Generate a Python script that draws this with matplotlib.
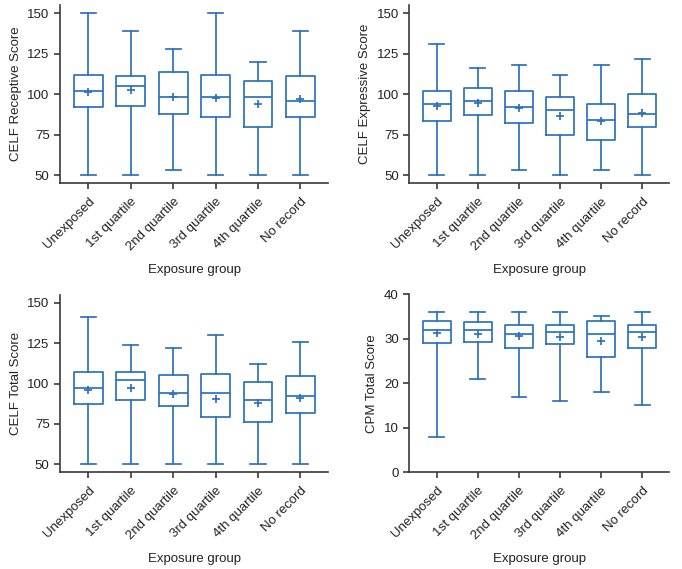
import matplotlib
matplotlib.use("Agg")
import matplotlib.pyplot as plt

plt.rcParams['font.family'] = ['Liberation Sans', 'DejaVu Sans']

groups = ["Unexposed", "1st quartile", "2nd quartile", "3rd quartile", "4th quartile", "No record"]

# CELF Receptive
rec_whislo = [50, 50, 53, 50, 50, 50]
rec_q1 = [92, 93, 88, 86, 80, 86]
rec_med = [102, 105, 98, 98, 98, 96]
rec_q3 = [112, 111, 114, 112, 108, 111]
rec_whishi = [150, 139, 128, 150, 120, 139]
rec_mean = [101.5, 102.5, 98.4, 97.7, 94.2, 97.3]

# CELF Expressive
exp_whislo = [50, 50, 53, 50, 53, 50]
exp_q1 = [83.5, 87, 82, 75, 72, 80]
exp_med = [94, 96, 92, 90, 84, 88]
exp_q3 = [102, 104, 102, 98.5, 94, 100]
exp_whishi = [131, 116, 118, 112, 118, 122]
exp_mean = [93, 94.6, 91.4, 86.8, 83.5, 88.1]

# CELF Total
tot_whislo = [50, 50, 50, 50, 50, 50]
tot_q1 = [87, 89.6, 86, 79.4, 76, 82]
tot_med = [97, 102.4, 94, 94.1, 90, 92]
tot_q3 = [107, 107, 105, 106, 101, 104.5]
tot_whishi = [141, 124, 122, 130, 112, 126]
tot_mean = [96.2, 97.4, 93.5, 90.7, 87.8, 91.3]

# CPM Total
cpm_whislo = [8, 21, 17, 16, 18, 15]
cpm_q1 = [29, 29.2, 28, 28.7, 26, 28]
cpm_med = [32, 32, 31, 31.5, 31, 31.5]
cpm_q3 = [34, 33.7, 33, 33, 34, 33]
cpm_whishi = [36, 36, 36, 36, 35, 36]
cpm_mean = [31.2, 31, 30.5, 30.3, 29.5, 30.3]

BLUE = "#2a72bd"
DARK = "#3a3a3a"

def make_stats(lo, q1, med, q3, hi, mean):
    return [dict(whislo=a, q1=b, med=c, q3=d, whishi=e, mean=f, fliers=[], label=g)
            for a, b, c, d, e, f, g in zip(lo, q1, med, q3, hi, mean, groups)]

panels = [
    (make_stats(rec_whislo, rec_q1, rec_med, rec_q3, rec_whishi, rec_mean), "CELF Receptive Score",
     (45, 155), [50, 75, 100, 125, 150], [0.088, 0.678, 0.393, 0.313]),
    (make_stats(exp_whislo, exp_q1, exp_med, exp_q3, exp_whishi, exp_mean), "CELF Expressive Score",
     (45, 155), [50, 75, 100, 125, 150], [0.600, 0.678, 0.381, 0.313]),
    (make_stats(tot_whislo, tot_q1, tot_med, tot_q3, tot_whishi, tot_mean), "CELF Total Score",
     (45, 155), [50, 75, 100, 125, 150], [0.088, 0.170, 0.393, 0.312]),
    (make_stats(cpm_whislo, cpm_q1, cpm_med, cpm_q3, cpm_whishi, cpm_mean), "CPM Total Score",
     (0, 40), [0, 10, 20, 30, 40], [0.600, 0.170, 0.381, 0.313]),
]

fig = plt.figure(figsize=(6.82, 5.69), dpi=100)

for stats, ylabel, ylim, yticks, rect in panels:
    ax = fig.add_axes(rect)
    ax.bxp(stats, positions=range(len(groups)), widths=0.68, showmeans=True,
           showfliers=False, patch_artist=False,
           boxprops=dict(color=BLUE, linewidth=1.25),
           medianprops=dict(color=BLUE, linewidth=1.25),
           whiskerprops=dict(color=BLUE, linewidth=1.25),
           capprops=dict(color=BLUE, linewidth=1.25),
           meanprops=dict(marker='+', markeredgecolor=BLUE, markersize=6, markeredgewidth=1.25),
           capwidths=0.36)
    ax.set_xlim(-0.67, 5.65)
    ax.set_ylim(*ylim)
    ax.set_yticks(yticks)
    ax.set_xticks(range(len(groups)))
    ax.set_xticklabels(groups, rotation=45, ha='right', rotation_mode='anchor')
    for s in ['top', 'right']:
        ax.spines[s].set_visible(False)
    for s in ['left', 'bottom']:
        ax.spines[s].set_color(DARK)
        ax.spines[s].set_linewidth(1.2)
    ax.tick_params(axis='both', colors=DARK, labelsize=9.5, length=4, width=1.2, labelcolor='#222222')
    ax.tick_params(axis='x', pad=5)
    ax.set_ylabel(ylabel, fontsize=9.5, color='#222222')
    ax.set_xlabel("Exposure group", fontsize=9.5, color='#222222', labelpad=8)

fig.savefig("out.png", dpi=100)
